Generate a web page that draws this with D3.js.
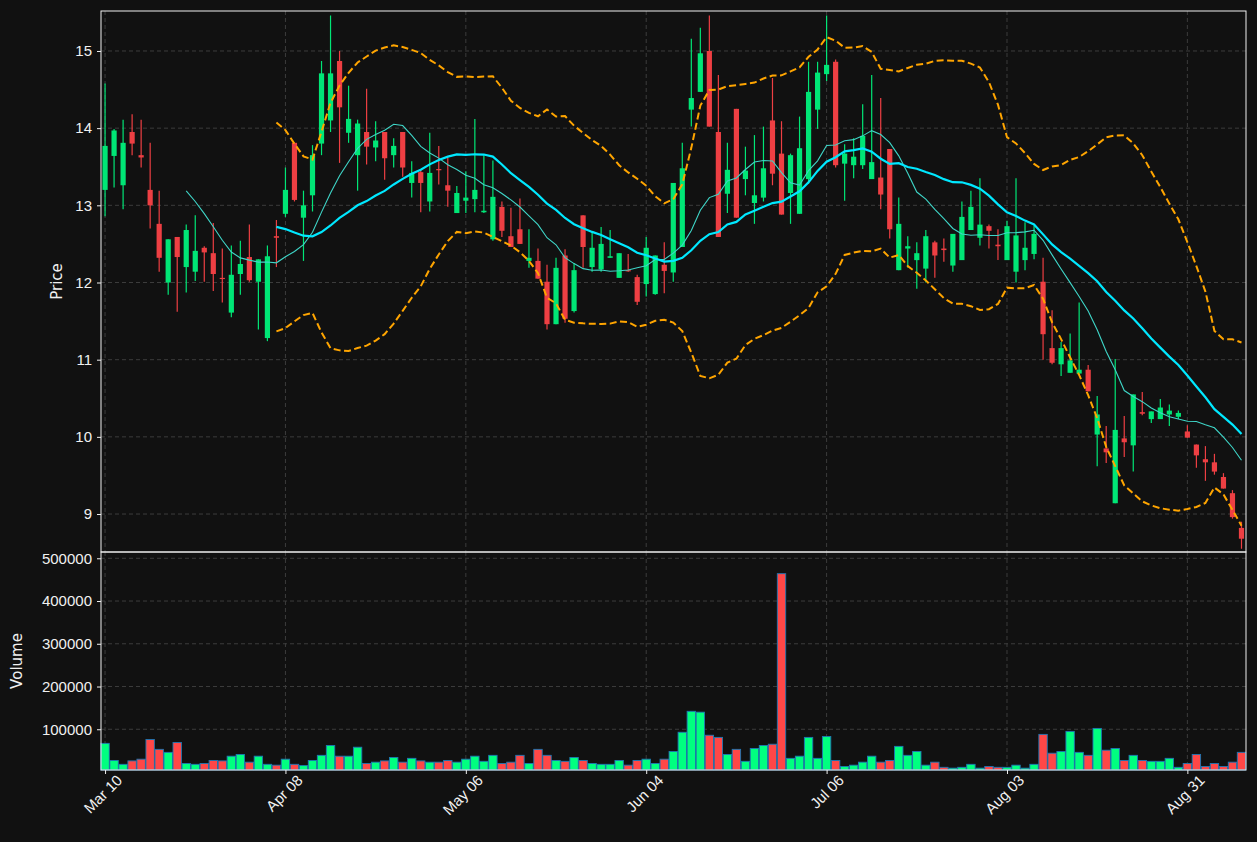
<!DOCTYPE html>
<html lang="en">
<head>
  <meta charset="utf-8">
  <title>Candlestick with Bollinger Bands</title>
  <script src="https://d3js.org/d3.v7.min.js" charset="utf-8"></script>
  <style>
    body { margin: 0; background: #111111; font-family: "DejaVu Sans", sans-serif; }
    .tick text { fill: #f0f0f0; font-size: 15px; }
    .axis .domain { display: none; }
    .axis line { stroke: #f0f0f0; }
  </style>
</head>
<body>
<script>
  // daily OHLC (trading-day index 0..126)
  var opens  = [13.20,13.64,13.26,13.95,13.65,13.20,12.76,12.00,12.59,12.20,12.14,12.45,12.38,12.06,11.61,12.11,12.33,12.01,11.28,12.60,
                12.89,13.81,12.84,13.13,13.80,14.10,14.87,13.94,13.65,13.95,13.75,13.95,13.65,13.95,13.29,13.43,13.05,13.47,13.26,12.90,
                13.06,13.08,12.91,12.56,12.98,12.60,12.69,12.28,12.28,12.01,11.46,12.35,11.63,12.87,12.20,12.17,12.32,12.06,12.16,12.07,
                11.98,11.85,12.23,12.13,12.46,14.24,14.47,15.00,13.95,13.15,14.25,13.34,13.03,13.10,14.10,13.67,13.16,12.89,13.34,14.24,
                14.70,14.86,13.54,13.52,13.52,13.34,13.36,13.73,12.16,12.44,12.29,12.18,12.52,12.44,12.22,12.29,12.68,12.58,12.73,12.49,
                12.29,12.14,12.29,12.37,12.01,11.15,10.94,10.83,10.82,10.87,10.03,9.85,9.14,9.98,9.89,10.32,10.23,10.23,10.29,10.26,
                10.07,9.90,9.71,9.67,9.48,9.27,8.82];
  var highs  = [14.58,13.99,14.11,14.18,14.11,13.81,13.19,12.56,12.59,12.75,12.87,12.47,12.77,12.44,12.48,12.54,12.75,12.30,12.48,12.81,
                13.49,13.81,13.19,13.78,14.87,15.46,15.00,14.55,14.11,14.51,14.09,13.95,13.87,13.95,13.57,13.47,13.94,13.77,13.62,13.25,
                13.44,14.12,13.65,13.58,13.05,12.97,13.09,12.69,12.44,12.23,12.32,12.43,12.25,12.87,12.65,12.72,12.68,12.38,12.37,12.10,
                12.59,12.35,12.52,13.29,13.81,15.16,15.30,15.46,14.69,13.81,14.25,13.76,13.91,14.02,14.65,14.09,13.67,14.15,14.86,14.86,
                15.46,14.89,13.79,13.87,14.31,14.69,14.39,13.73,13.10,12.60,12.52,12.68,12.54,12.57,12.63,13.05,13.19,13.35,12.75,12.69,
                12.80,13.35,12.78,12.74,12.32,11.64,11.23,11.34,11.74,10.93,10.53,10.14,11.01,10.27,10.55,10.58,10.33,10.49,10.42,10.34,
                10.15,9.90,9.88,9.78,9.53,9.31,8.90];
  var lows   = [12.86,13.23,12.95,13.65,13.49,12.70,12.14,11.84,11.62,11.87,12.02,12.01,11.89,11.74,11.55,11.84,12.01,11.39,11.24,12.20,
                12.85,13.05,12.28,12.92,13.65,13.95,13.55,13.81,13.19,13.53,13.57,13.33,13.49,13.37,13.10,12.91,12.92,13.27,12.98,12.90,
                12.90,12.91,12.90,12.54,12.59,12.46,12.50,12.19,12.05,11.39,11.46,11.48,11.61,12.19,12.14,12.14,12.32,12.06,12.14,11.71,
                11.82,11.84,11.86,12.01,12.46,14.02,14.47,14.02,12.59,12.90,12.84,13.13,12.76,13.05,13.26,12.88,12.76,12.89,13.28,13.99,
                14.61,13.49,13.06,13.35,13.47,13.34,12.95,12.57,12.16,12.19,11.92,12.00,12.06,12.27,12.14,12.29,12.68,12.48,12.44,12.29,
                12.29,12.00,12.16,12.30,11.00,10.94,10.79,10.83,10.82,10.59,9.62,9.66,9.14,9.74,9.55,10.28,10.18,10.23,10.14,10.23,
                9.99,9.60,9.43,9.51,9.33,8.94,8.55];
  var closes = [13.77,13.97,13.81,13.80,13.62,13.00,12.32,12.56,12.33,12.68,12.41,12.39,12.11,12.05,12.10,12.24,12.03,12.30,12.34,12.58,
                13.20,13.07,13.00,13.65,14.71,14.71,14.27,14.12,14.06,13.76,13.84,13.61,13.77,13.49,13.42,13.29,13.42,13.46,13.19,13.16,
                13.10,13.20,12.93,13.11,12.67,12.46,12.50,12.32,12.05,11.46,12.19,11.53,12.16,12.46,12.45,12.50,12.34,12.38,12.15,11.75,
                12.45,12.35,12.15,13.29,13.48,14.39,14.97,14.02,12.59,13.46,12.84,13.45,13.13,13.48,13.41,12.88,13.65,13.74,14.47,14.72,
                14.82,13.52,13.67,13.63,13.90,13.56,13.14,12.69,12.76,12.47,12.38,12.60,12.35,12.42,12.63,12.85,12.98,12.75,12.67,12.47,
                12.73,12.61,12.45,12.63,11.33,10.96,11.15,10.99,10.87,10.59,10.29,9.80,10.09,9.93,10.55,10.30,10.33,10.38,10.34,10.31,
                9.99,9.76,9.67,9.55,9.33,8.96,8.68];
  var volumes = [67000,27000,18000,26000,30000,76000,53000,46000,69000,20000,18000,20000,27000,26000,37000,41000,23000,37000,18000,16000,
                 30000,18000,15000,27000,39000,62000,37000,37000,58000,20000,23000,26000,34000,23000,32000,26000,23000,23000,27000,23000,
                 30000,37000,25000,39000,20000,23000,39000,20000,53000,39000,27000,25000,34000,27000,20000,18000,18000,27000,16000,27000,
                 30000,20000,30000,48000,93000,142000,140000,86000,81000,41000,53000,25000,55000,62000,65000,464000,32000,37000,81000,32000,
                 83000,27000,13000,16000,23000,37000,23000,27000,60000,39000,48000,16000,23000,11000,9000,11000,18000,9000,13000,11000,
                 11000,16000,9000,18000,88000,44000,48000,95000,46000,39000,102000,51000,55000,27000,39000,27000,25000,25000,32000,11000,
                 20000,41000,13000,20000,13000,23000,46000];
  var tickIndex  = [0, 20, 40, 60, 80, 100, 120];
  var tickLabels = ["Mar 10", "Apr 08", "May 06", "Jun 04", "Jul 06", "Aug 03", "Aug 31"];
  var priceTicks  = [9, 10, 11, 12, 13, 14, 15];
  var volumeTicks = [100000, 200000, 300000, 400000, 500000];

  var width = 1257, height = 842;
  var left = 101, right = 1246, pTop = 11, pBot = 552, vBot = 770;
  var up = "#00e676", down = "#ee3f43";

  var svg = d3.select("body").append("svg")
    .attr("width", width).attr("height", height)
    .style("background", "#111111");

  var n = closes.length;
  var x = d3.scaleLinear().domain([-0.45, n - 0.5]).range([left, right]);
  var yP = d3.scaleLinear().domain([8.508, 15.518]).range([pBot, pTop]);
  var yV = d3.scaleLinear().domain([4700, 514700]).range([vBot, pBot]);

  // rolling stats (10 & 20 day means, 20 day bands)
  function rolling(len, fn) {
    return closes.map(function(c, i) {
      if (i < len - 1) return null;
      return fn(closes.slice(i - len + 1, i + 1));
    });
  }
  var ma10 = rolling(10, d3.mean);
  var ma20 = rolling(20, d3.mean);
  var bbUp = rolling(20, function(w) { return d3.mean(w) + 2 * d3.deviation(w); });
  var bbDn = rolling(20, function(w) { return d3.mean(w) - 2 * d3.deviation(w); });

  // grid
  function grid(g, y, ticks, top, bot) {
    g.selectAll(".hg").data(ticks).enter().append("line")
      .attr("x1", left).attr("x2", right)
      .attr("y1", function(d) { return y(d); }).attr("y2", function(d) { return y(d); })
      .attr("stroke", "#3c3c3c").attr("stroke-dasharray", "4,3");
    g.selectAll(".vg").data(tickIndex).enter().append("line")
      .attr("x1", function(d) { return x(d); }).attr("x2", function(d) { return x(d); })
      .attr("y1", top).attr("y2", bot)
      .attr("stroke", "#3c3c3c").attr("stroke-dasharray", "4,3");
  }
  grid(svg.append("g"), yP, priceTicks, pTop, pBot);
  grid(svg.append("g"), yV, volumeTicks, pBot, vBot);

  // candles
  var idx = d3.range(n);
  var cg = svg.append("g");
  cg.selectAll(".wick").data(idx).enter().append("line")
    .attr("x1", function(i) { return x(i); }).attr("x2", function(i) { return x(i); })
    .attr("y1", function(i) { return yP(highs[i]); }).attr("y2", function(i) { return yP(lows[i]); })
    .attr("stroke", function(i) { return closes[i] >= opens[i] ? up : down; })
    .attr("stroke-width", 1.2);
  cg.selectAll(".body").data(idx).enter().append("rect")
    .attr("x", function(i) { return x(i) - 2.6; })
    .attr("width", 5.2)
    .attr("y", function(i) { return yP(Math.max(opens[i], closes[i])); })
    .attr("height", function(i) { return Math.max(1.2, Math.abs(yP(opens[i]) - yP(closes[i]))); })
    .attr("fill", function(i) { return closes[i] >= opens[i] ? up : down; });

  // moving averages and bands
  function drawLine(vals, color, w, dash) {
    var line = d3.line()
      .defined(function(d) { return d != null; })
      .x(function(d, i) { return x(i); })
      .y(function(d) { return yP(d); });
    svg.append("path").datum(vals)
      .attr("d", line).attr("fill", "none")
      .attr("stroke", color).attr("stroke-width", w)
      .attr("stroke-dasharray", dash || null);
  }
  drawLine(bbUp, "#ffa500", 2, "7,3.5");
  drawLine(bbDn, "#ffa500", 2, "7,3.5");
  drawLine(ma10, "#3fd6c8", 1.1);
  drawLine(ma20, "#00e8ff", 2.2);

  // volume
  svg.append("g").selectAll("rect").data(idx).enter().append("rect")
    .attr("x", function(i) { return x(i) - 4.2; })
    .attr("width", 8.4)
    .attr("y", function(i) { return yV(volumes[i]); })
    .attr("height", function(i) { return vBot - yV(volumes[i]); })
    .attr("fill", function(i) { return closes[i] >= opens[i] ? "#00ff80" : "#ff4747"; })
    .attr("stroke", "#1f77b4").attr("stroke-width", 0.9);

  // frames
  [[pTop, pBot], [pBot, vBot]].forEach(function(r) {
    svg.append("rect").attr("x", left).attr("y", r[0])
      .attr("width", right - left).attr("height", r[1] - r[0])
      .attr("fill", "none").attr("stroke", "#f0f0f0").attr("stroke-width", 1);
  });

  // axes
  svg.append("g").attr("class", "axis").attr("transform", "translate(" + left + ",0)")
    .call(d3.axisLeft(yP).tickValues(priceTicks).tickSize(4).tickPadding(5).tickFormat(d3.format("d")));
  svg.append("g").attr("class", "axis").attr("transform", "translate(" + left + ",0)")
    .call(d3.axisLeft(yV).tickValues(volumeTicks).tickSize(4).tickPadding(5).tickFormat(d3.format("d")));
  svg.append("g").attr("class", "axis").attr("transform", "translate(0," + vBot + ")")
    .call(d3.axisBottom(x).tickValues(tickIndex).tickSize(4)
      .tickFormat(function(d, i) { return tickLabels[i]; }))
    .selectAll("text")
      .attr("text-anchor", "end")
      .attr("dx", "0.3em").attr("dy", "0.9em")
      .attr("transform", "rotate(-45)");

  svg.append("text").attr("transform", "translate(62," + (pTop + pBot) / 2 + ") rotate(-90)")
    .attr("text-anchor", "middle").attr("fill", "#f0f0f0").style("font-size", "15px").text("Price");
  svg.append("text").attr("transform", "translate(22," + (pBot + vBot) / 2 + ") rotate(-90)")
    .attr("text-anchor", "middle").attr("fill", "#f0f0f0").style("font-size", "15px").text("Volume");
</script>
</body>
</html>
